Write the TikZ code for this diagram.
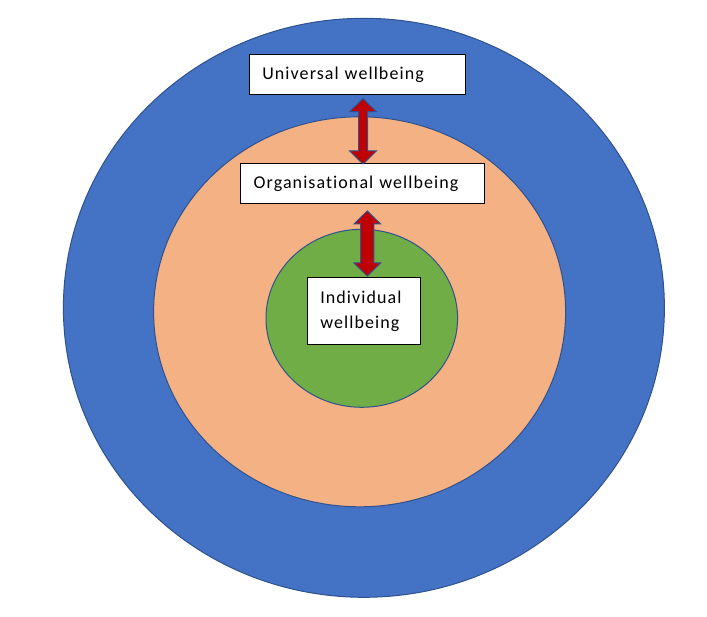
\documentclass[tikz,border=0pt]{standalone}
\usepackage{fontspec}
\setmainfont{Carlito}[LetterSpace=6.0,Ligatures=NoCommon]
\usetikzlibrary{calc,positioning}
\definecolor{ringblue}{HTML}{4472C4}
\definecolor{ringpeach}{HTML}{F4B183}
\definecolor{ringgreen}{HTML}{70AD47}
\definecolor{ringline}{HTML}{2F528F}
\definecolor{linkred}{HTML}{C00000}

\begin{document}
\begin{tikzpicture}[x=1pt,y=-1pt]

\tikzset{outer/.style={fill=ringblue,draw=ringline,line width=1pt},
middle/.style={fill=ringpeach,draw=ringline,line width=1pt},
inner/.style={fill=ringgreen,draw=ringline,line width=1pt},
level/.style={fill=white,draw=black,line width=1pt,outer sep=0pt,inner xsep=13pt,inner ysep=0pt,align=left,font=\fontsize{18}{25}\selectfont},
link/.style={fill=linkred,draw=ringline,line width=1pt,
to path={let \p1=(\tikztostart),\p2=(\tikztotarget) in
(\x1,\y1) -- (\x1+13.3pt,\y1-13pt) -- (\x1+#1,\y1-13pt) -- (\x1+#1,\y2+13pt) -- (\x1+13.3pt,\y2+13pt) -- (\x1,\y2)
-- (\x1-13.3pt,\y2+13pt) -- (\x1-#1,\y2+13pt) -- (\x1-#1,\y1-13pt) -- (\x1-13.3pt,\y1-13pt) -- cycle}},
link/.default=4.5pt}

\useasboundingbox (0,0) rectangle (707,617);

% Rings
\draw[outer] (363.9,307.8) ellipse [x radius=300.5,y radius=289.5];
\draw[middle] (359.6,311.8) ellipse [x radius=206,y radius=195];
\draw[inner] (361.8,318.3) ellipse [x radius=95.8,y radius=89];

% Level boxes
\node (uni) at (357.5,74.65) [level,text width=190.4pt,minimum height=40.7pt] {Universal wellbeing};
\node (org) [below=68.3pt of uni,xshift=5pt,level,text width=217.6pt,minimum height=40.7pt] {Organisational wellbeing};
\node (ind) [below=73.3pt of org,xshift=1.5pt,level,text width=87.4pt,minimum height=67pt] {Individual\\wellbeing};

% Arrows between levels
\draw[link] ([xshift=5.5pt,yshift=-3.7pt]uni.south) to ([yshift=-0.7pt]org.north);
\draw[link=6.6pt] ([xshift=4.8pt,yshift=-7pt]org.south) to ([yshift=1.3pt]ind.north);

\end{tikzpicture}
\end{document}
